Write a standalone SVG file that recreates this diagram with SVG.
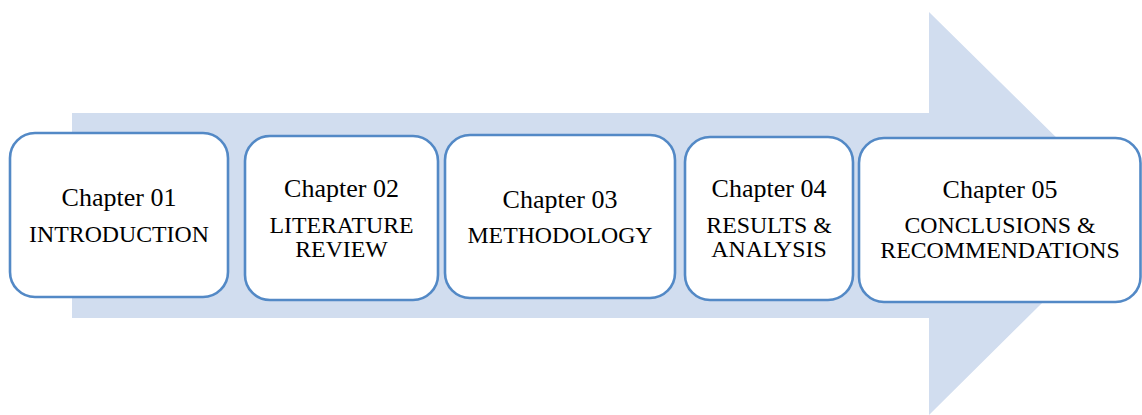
<svg xmlns="http://www.w3.org/2000/svg" width="1142" height="415" viewBox="0 0 1142 415">
  <style>
    .box { fill: #ffffff; stroke: #5389c6; stroke-width: 2.6; }
    .t { fill: #000000; text-anchor: middle; }
    .h { font-size: 26px; }
    .s { font-size: 23.8px; }
  </style>
  <rect width="1142" height="415" fill="#ffffff"/>
  <!-- Background block arrow -->
  <g id="arrow">
    <polygon points="72,113 929,113 929,12 1133,213 929,415 929,318 72,318" fill="#d1ddef"/>
  </g>
  <g font-family="Liberation Serif, DejaVu Serif, serif">
    <g id="chapter01">
      <rect class="box" x="10" y="133" width="218" height="164" rx="25" ry="25"/>
      <text class="t h" x="119" y="206">Chapter 01</text>
      <text class="t s" x="119" y="242">INTRODUCTION</text>
    </g>
    <g id="chapter02">
      <rect class="box" x="245" y="136" width="193" height="164" rx="25" ry="25"/>
      <text class="t h" x="341.5" y="197">Chapter 02</text>
      <text class="t s" x="341.5" y="233">LITERATURE</text>
      <text class="t s" x="341.5" y="257">REVIEW</text>
    </g>
    <g id="chapter03">
      <rect class="box" x="445" y="135" width="230" height="163" rx="25" ry="25"/>
      <text class="t h" x="560" y="208">Chapter 03</text>
      <text class="t s" x="560" y="243">METHODOLOGY</text>
    </g>
    <g id="chapter04">
      <rect class="box" x="685" y="137" width="168" height="163" rx="25" ry="25"/>
      <text class="t h" x="769" y="197">Chapter 04</text>
      <text class="t s" x="769" y="233">RESULTS &amp;</text>
      <text class="t s" x="769" y="257">ANALYSIS</text>
    </g>
    <g id="chapter05">
      <rect class="box" x="859" y="138" width="281.5" height="164" rx="25" ry="25"/>
      <text class="t h" x="1000" y="198">Chapter 05</text>
      <text class="t s" x="1000" y="233">CONCLUSIONS &amp;</text>
      <text class="t s" x="1000" y="258">RECOMMENDATIONS</text>
    </g>
  </g>
  <g id="connectors"/>
</svg>
